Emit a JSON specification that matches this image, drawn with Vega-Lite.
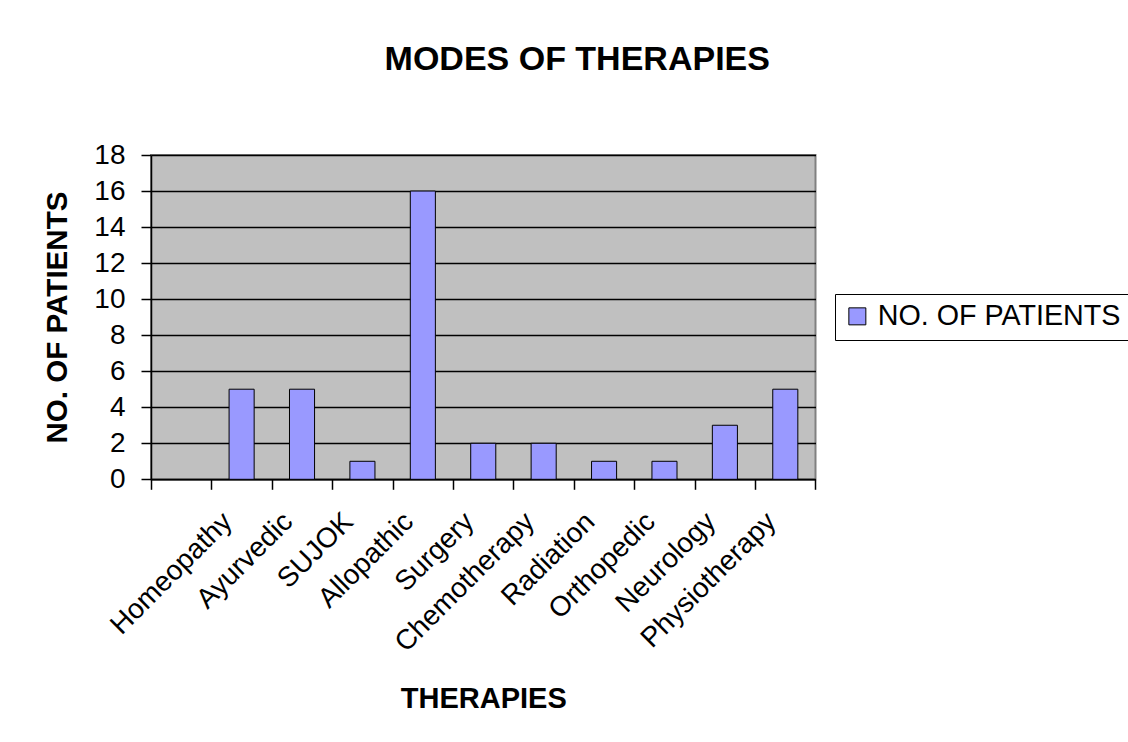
{
  "$schema": "https://vega.github.io/schema/vega-lite/v6.json",
  "width": 664.5,
  "height": 324.3,
  "autosize": {"type": "none"},
  "padding": {"left": 151, "top": 155, "right": 312.5, "bottom": 262.7},
  "background": "white",
  "title": {
    "text": "MODES OF THERAPIES",
    "font": "Liberation Sans",
    "fontSize": 34,
    "fontWeight": "bold",
    "color": "black",
    "anchor": "middle",
    "dx": 94,
    "baseline": "alphabetic",
    "offset": 37
  },
  "data": {
    "values": [
      {"therapy": "Homeopathy", "patients": 5},
      {"therapy": "Ayurvedic", "patients": 5},
      {"therapy": "SUJOK", "patients": 1},
      {"therapy": "Allopathic", "patients": 16},
      {"therapy": "Surgery", "patients": 2},
      {"therapy": "Chemotherapy", "patients": 2},
      {"therapy": "Radiation", "patients": 1},
      {"therapy": "Orthopedic", "patients": 1},
      {"therapy": "Neurology", "patients": 3},
      {"therapy": "Physiotherapy", "patients": 5}
    ]
  },
  "mark": {"type": "bar", "width": {"band": 0.415}, "stroke": "black", "strokeWidth": 1},
  "encoding": {
    "x": {
      "field": "therapy",
      "type": "nominal",
      "sort": null,
      "scale": {
        "domain": [" ", "Homeopathy", "Ayurvedic", "SUJOK", "Allopathic", "Surgery", "Chemotherapy", "Radiation", "Orthopedic", "Neurology", "Physiotherapy"],
        "paddingInner": 0,
        "paddingOuter": 0
      },
      "axis": {
        "title": "THERAPIES",
        "titleFont": "Liberation Sans",
        "titleFontSize": 29,
        "titleFontWeight": "bold",
        "titleColor": "black",
        "titleBaseline": "alphabetic",
        "titleY": 228,
        "labelAngle": -45,
        "labelAlign": "right",
        "labelBaseline": "middle",
        "labelFont": "Liberation Sans",
        "labelFontSize": 28,
        "labelColor": "black",
        "labelPadding": 28,
        "labelOffset": -14,
        "labelLimit": 400,
        "labelOverlap": false,
        "tickBand": "extent",
        "tickSize": 10,
        "tickColor": "black",
        "tickWidth": 1.5,
        "domainColor": "black",
        "domainWidth": 1.5,
        "grid": false
      }
    },
    "y": {
      "field": "patients",
      "type": "quantitative",
      "scale": {"domain": [0, 18], "nice": false},
      "axis": {
        "title": "NO. OF PATIENTS",
        "titleFont": "Liberation Sans",
        "titleFontSize": 29.6,
        "titleFontWeight": "bold",
        "titleColor": "black",
        "titleBaseline": "alphabetic",
        "titleX": -84.3,
        "titleY": 162,
        "titleAngle": -90,
        "values": [0, 2, 4, 6, 8, 10, 12, 14, 16, 18],
        "labelFont": "Liberation Sans",
        "labelFontSize": 28,
        "labelColor": "black",
        "labelPadding": 16,
        "tickSize": 10,
        "tickColor": "black",
        "tickWidth": 1.5,
        "domainColor": "black",
        "domainWidth": 1.5,
        "grid": true,
        "gridColor": "black",
        "gridWidth": 1.5
      }
    },
    "color": {
      "datum": "NO. OF PATIENTS",
      "type": "nominal",
      "scale": {"range": ["#9999FF"]},
      "legend": {
        "title": null,
        "orient": "none",
        "legendX": 684,
        "legendY": 139,
        "padding": 8,
        "strokeColor": "black",
        "fillColor": "white",
        "symbolType": "square",
        "symbolSize": 289,
        "symbolStrokeColor": "black",
        "symbolStrokeWidth": 1,
        "labelFont": "Liberation Sans",
        "labelFontSize": 28.7,
        "labelColor": "black",
        "labelOffset": 6,
        "labelLimit": 400
      }
    }
  },
  "config": {
    "view": {"fill": "#C0C0C0", "stroke": "#808080", "strokeWidth": 2}
  }
}
